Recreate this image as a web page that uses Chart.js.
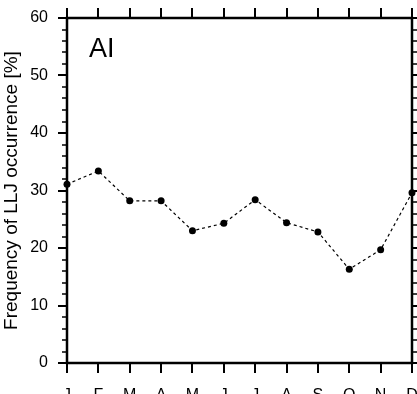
<!DOCTYPE html>
<html>
<head>
<meta charset="utf-8">
<script src="https://cdn.jsdelivr.net/npm/chart.js@4"></script>
<style>
  html, body { margin: 0; padding: 0; background: #fff; }
  canvas { display: block; }
</style>
</head>
<body>
<canvas id="myChart" width="417" height="394"></canvas>
<script>
// monthly LLJ frequency, panel "AI"
const months = ['J','F','M','A','M','J','J','A','S','O','N','D'];
const freq = [31.1, 33.4, 28.2, 28.2, 23.0, 24.3, 28.4, 24.4, 22.8, 16.3, 19.7, 29.6];
const yMin = 0, yMax = 60, yStep = 10, yMinorStep = 2;
const panelLabel = 'AI';
const yTitle = 'Frequency of LLJ occurrence [%]';

const FONT = '"Liberation Sans", Arial, Helvetica, sans-serif';

// NCL-like frame with outward ticks on all four sides
const framePlugin = {
  id: 'frame',
  beforeDatasetsDraw(chart) {
    const ctx = chart.ctx;
    const a = chart.chartArea;
    const xs = chart.scales.x, ys = chart.scales.y;
    ctx.save();
    ctx.strokeStyle = '#000';
    ctx.lineCap = 'butt';

    ctx.lineWidth = 2;
    // x ticks (top and bottom)
    for (let i = 0; i < months.length; i++) {
      const px = Math.round(xs.getPixelForValue(i));
      ctx.beginPath();
      ctx.moveTo(px, a.bottom); ctx.lineTo(px, a.bottom + 10);
      ctx.moveTo(px, a.top); ctx.lineTo(px, a.top - 10);
      ctx.stroke();
    }
    // y ticks (left and right), major every 10, minor every 2
    for (let v = yMin; v <= yMax; v += yMinorStep) {
      const py = Math.round(ys.getPixelForValue(v));
      const major = v % yStep === 0;
      ctx.lineWidth = major ? 2 : 1.5;
      ctx.beginPath();
      ctx.moveTo(a.left, py); ctx.lineTo(a.left - (major ? 9 : 5), py);
      ctx.moveTo(a.right, py); ctx.lineTo(a.right + (major ? 9 : 5), py);
      ctx.stroke();
    }
    ctx.lineWidth = 2.5;
    ctx.strokeRect(a.left, a.top, a.right - a.left, a.bottom - a.top);

    ctx.fillStyle = '#000';
    ctx.font = '27px ' + FONT;
    ctx.textAlign = 'left';
    ctx.textBaseline = 'alphabetic';
    ctx.fillText(panelLabel, a.left + 22, a.top + 39);
    ctx.restore();
  }
};

const ctx = document.getElementById('myChart').getContext('2d');
new Chart(ctx, {
  type: 'line',
  data: {
    labels: months,
    datasets: [{
      data: freq,
      borderColor: '#000',
      borderWidth: 1.2,
      borderDash: [3, 3],
      pointRadius: 3.5,
      pointBackgroundColor: '#000',
      pointBorderColor: '#000',
      pointBorderWidth: 0,
      tension: 0,
      clip: false
    }]
  },
  options: {
    responsive: false,
    animation: false,
    devicePixelRatio: 1,
    layout: { padding: { top: 18, right: 5, left: 0, bottom: 0 } },
    plugins: { legend: { display: false }, tooltip: { enabled: false } },
    scales: {
      x: {
        type: 'category',
        offset: false,
        grid: { display: false, drawTicks: false },
        border: { display: false },
        ticks: {
          color: '#000',
          font: { family: FONT, size: 16 },
          padding: 23,
          maxRotation: 0,
          autoSkip: false
        },
        afterFit(s) { s.height = 31; s.paddingLeft = 0; s.paddingRight = 0; }
      },
      y: {
        min: yMin,
        max: yMax,
        grid: { display: false, drawTicks: false },
        border: { display: false },
        ticks: {
          stepSize: yStep,
          color: '#000',
          font: { family: FONT, size: 16 },
          padding: 19
        },
        title: {
          display: true,
          text: yTitle,
          color: '#000',
          font: { family: FONT, size: 19 },
          padding: { top: 0, bottom: 0 }
        },
        afterFit(s) { s.width = 67; s.paddingTop = 0; s.paddingBottom = 0; }
      }
    }
  },
  plugins: [framePlugin]
});
</script>
</body>
</html>
